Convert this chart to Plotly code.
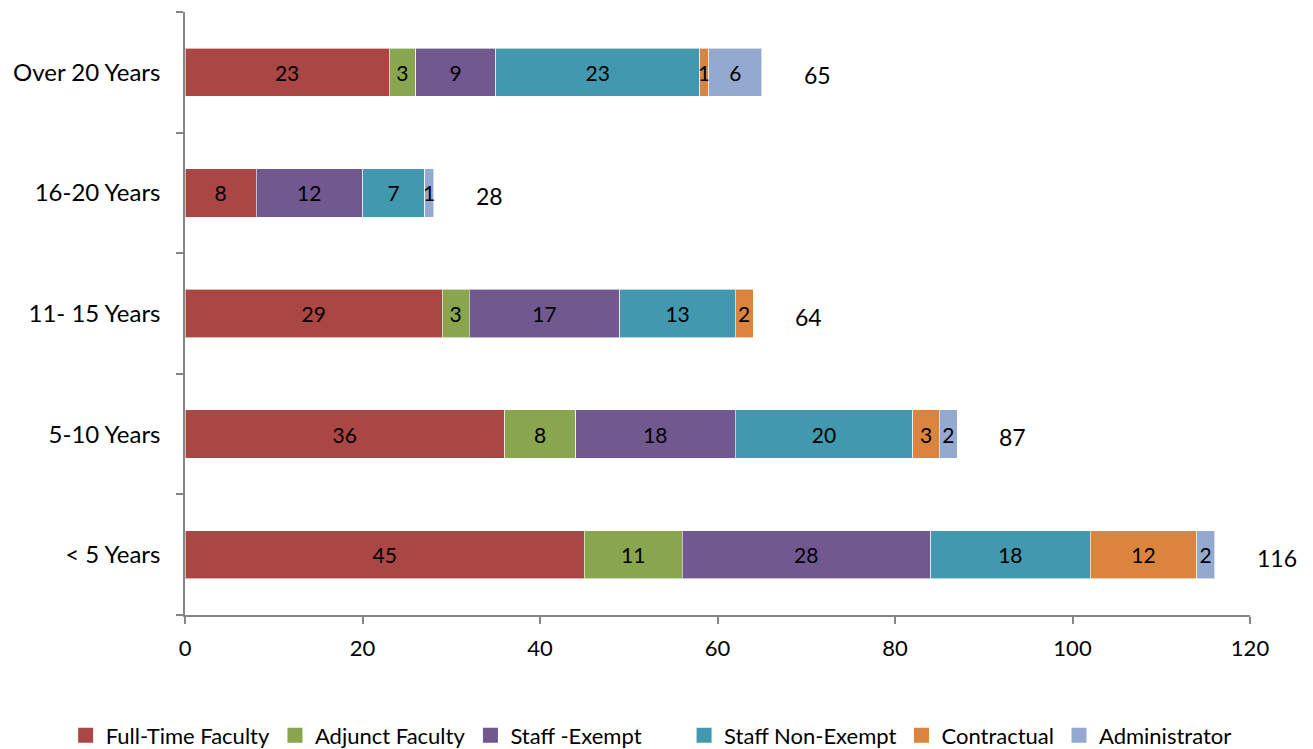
import plotly.graph_objects as go

categories = ["< 5 Years", "5-10 Years", "11- 15 Years", "16-20 Years", "Over 20 Years"]
series_names = ["Full-Time Faculty", "Adjunct Faculty", "Staff -Exempt", "Staff Non-Exempt", "Contractual", "Administrator"]
full_time = [45, 36, 29, 8, 23]
adjunct = [11, 8, 3, 0, 3]
staff_exempt = [28, 18, 17, 12, 9]
staff_non_exempt = [18, 20, 13, 7, 23]
contractual = [12, 3, 2, 0, 1]
administrator = [2, 2, 0, 1, 6]
x_ticks = [0, 20, 40, 60, 80, 100, 120]

series_values = [full_time, adjunct, staff_exempt, staff_non_exempt, contractual, administrator]
colors = ["#AA4643", "#89A54E", "#71588F", "#4198AF", "#DB843D", "#93A9CF"]
FONT = "Lato"
FS = 21

fig = go.Figure()
for name, vals, col in zip(series_names, series_values, colors):
    fig.add_trace(go.Bar(
        y=categories, x=vals, name=name, orientation="h", showlegend=False,
        marker=dict(color=col, line=dict(color="rgba(255,255,255,0.6)", width=1)),
        text=[str(v) if v else "" for v in vals],
        textposition="inside", insidetextanchor="middle", textangle=0,
        textfont=dict(color="black", size=FS, family=FONT),
        cliponaxis=False, hoverinfo="skip",
    ))
# legend entries with square swatches, split across two side-by-side legends
for i, (name, col) in enumerate(zip(series_names, colors)):
    fig.add_trace(go.Scatter(
        x=[None], y=[None], mode="markers", name=name,
        legend="legend" if i < 3 else "legend2",
        marker=dict(symbol="square", size=15, color=col), hoverinfo="skip",
    ))

totals = [sum(v) for v in zip(*series_values)]
for cat, tot in zip(categories, totals):
    fig.add_annotation(x=tot, y=cat, text=str(tot), showarrow=False,
                       xanchor="left", xshift=40, yshift=-3,
                       font=dict(size=23, family=FONT, color="black"))

legend_common = dict(orientation="h", traceorder="normal", xref="container", yref="container",
                     xanchor="left", y=0.018, yanchor="middle",
                     font=dict(size=22, family=FONT), itemwidth=30, tracegroupgap=0,
                     bgcolor="rgba(0,0,0,0)")

fig.update_layout(
    barmode="stack", bargap=0.6,
    width=1313, height=749,
    margin=dict(l=185, r=63, t=12, b=134),
    paper_bgcolor="white", plot_bgcolor="white",
    font=dict(family=FONT, size=FS, color="black"),
    uniformtext=dict(minsize=FS, mode="show"),
    legend=dict(x=0.050, **legend_common),
    legend2=dict(x=0.521, **legend_common),
    xaxis=dict(range=[0, 120], tickvals=x_ticks, showgrid=False, zeroline=False,
               showline=True, linecolor="#868686", linewidth=1.5, ticks="outside",
               ticklen=7, tickcolor="#868686", tickwidth=1.5, ticklabelstandoff=6,
               tickfont=dict(size=22)),
    yaxis=dict(categoryorder="array", categoryarray=categories, showgrid=False,
               showline=True, linecolor="#868686", linewidth=1.5, ticks="outside",
               tickson="boundaries", ticklen=7, tickcolor="#868686", tickwidth=1.5,
               ticklabelstandoff=18, tickfont=dict(size=24)),
)

fig.write_html("out.html")
